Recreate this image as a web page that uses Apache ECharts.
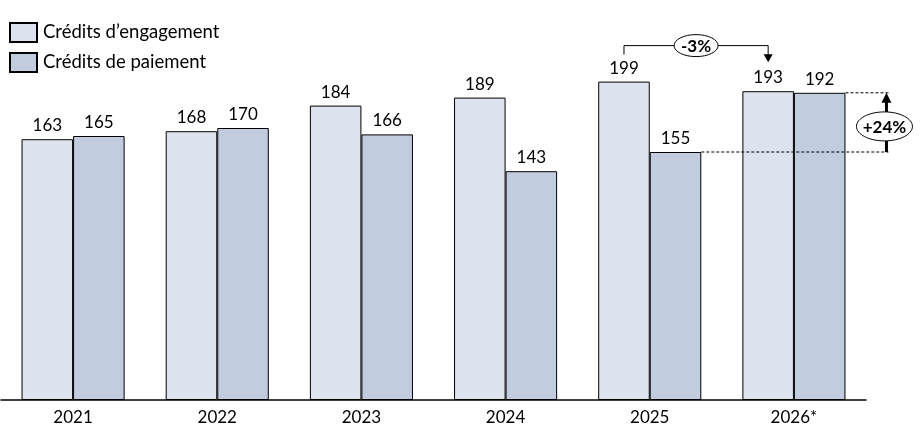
<!DOCTYPE html>
<html><head><meta charset="utf-8">
<script src="https://cdn.jsdelivr.net/npm/echarts@6/dist/echarts.min.js"></script>
<style>html,body{margin:0;padding:0;background:#fff}#c{width:921px;height:441px}</style>
</head><body><div id="c"></div>
<script>
const categories = ['2021','2022','2023','2024','2025','2026*'];
const engagement = [163,168,184,189,199,193];
const paiement = [165,170,166,143,155,192];
const seriesNames = ['Crédits d\u2019engagement','Crédits de paiement'];
const changeCE = '-3%';
const changeCP = '+24%';

const FONT = 'Lato, "Open Sans", sans-serif';
const chart = echarts.init(document.getElementById('c'), null, {renderer:'canvas'});
const lbl = {show:true, position:'top', distance:5, color:'#000', fontSize:17, fontFamily:FONT};
chart.setOption({
  animation:false,
  legend:{orient:'vertical', left:9, top:22, padding:0, icon:'rect', itemWidth:27, itemHeight:19, itemGap:9,
    textStyle:{fontSize:18.5, fontFamily:FONT, color:'#000', padding:[0,0,0,1]}, data:seriesNames},
  grid:{left:1, right:55, top:48, bottom:41},
  xAxis:{type:'category', data:categories,
    axisLine:{lineStyle:{color:'#000', width:1.5}}, axisTick:{show:false},
    axisLabel:{fontSize:17, fontFamily:FONT, color:'#000', margin:9}},
  yAxis:{type:'value', min:0, max:220, show:false, splitLine:{show:false}},
  series:[
    {name:seriesNames[0], type:'bar', data:engagement, barGap:'0%', barCategoryGap:'28.5%',
     itemStyle:{color:'#DDE3EE', borderColor:'#000', borderWidth:1}, label:lbl},
    {name:seriesNames[1], type:'bar', data:paiement,
     itemStyle:{color:'#C2CCDF', borderColor:'#000', borderWidth:1}, label:lbl}
  ]
});

function lay(s,i){ return chart.getModel().getSeriesByIndex(s).getData().getItemLayout(i); }
const ce25 = lay(0,4), ce26 = lay(0,5), cp25 = lay(1,4), cp26 = lay(1,5);
const yTop25 = Math.min(ce25.y, ce25.y+ce25.height);
const xL = ce25.x + ce25.width/2, xR = ce26.x + ce26.width/2;
const yB = yTop25 - 36;
const tipY = Math.min(ce26.y, ce26.y+ce26.height) - 29;
const els = [];
const ls = {stroke:'#000', lineWidth:1};
els.push({type:'polyline', shape:{points:[[xL,yTop25-27],[xL,yB],[xR,yB],[xR,tipY-7]]}, style:Object.assign({fill:null},ls), z:10});
els.push({type:'polygon', shape:{points:[[xR-4.5,tipY-8],[xR+4.5,tipY-8],[xR,tipY]]}, style:{fill:'#000'}, z:10});
const mx = (xL+xR)/2;
els.push({type:'ellipse', shape:{cx:mx, cy:yB, rx:22, ry:11}, style:{fill:'#fff', stroke:'#000', lineWidth:1}, z:11});
els.push({type:'text', x:mx, y:yB+1, style:{text:changeCE, fill:'#000', font:'bold 17px '+FONT, align:'center', verticalAlign:'middle'}, z:12});

const y155 = Math.min(cp25.y, cp25.y+cp25.height);
const y192 = Math.min(cp26.y, cp26.y+cp26.height);
const xArr = cp26.x + cp26.width + 41;
const dash = {stroke:'#000', lineWidth:1, lineDash:[3,2]};
els.push({type:'line', shape:{x1:cp25.x+cp25.width, y1:y155, x2:xArr+2, y2:y155}, style:dash, z:10});
els.push({type:'line', shape:{x1:cp26.x+cp26.width, y1:y192, x2:xArr+2, y2:y192}, style:dash, z:10});
els.push({type:'line', shape:{x1:xArr, y1:y155, x2:xArr, y2:y192+8}, style:{stroke:'#000', lineWidth:3}, z:10});
els.push({type:'polygon', shape:{points:[[xArr-5,y192+10],[xArr+5,y192+10],[xArr,y192]]}, style:{fill:'#000'}, z:10});
const cy2 = (y155+y192)/2 + 4;
els.push({type:'ellipse', shape:{cx:xArr-2, cy:cy2, rx:28, ry:14.5}, style:{fill:'#fff', stroke:'#000', lineWidth:1}, z:11});
els.push({type:'text', x:xArr-2, y:cy2+1, style:{text:changeCP, fill:'#000', font:'bold 17px '+FONT, align:'center', verticalAlign:'middle'}, z:12});
chart.setOption({graphic:{elements:els}});
</script></body></html>
